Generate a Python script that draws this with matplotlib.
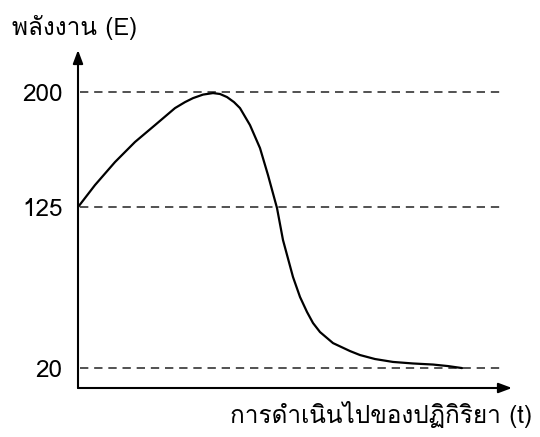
import matplotlib
matplotlib.use('Agg')
import matplotlib.pyplot as plt
from matplotlib import font_manager
from matplotlib.ft2font import FT2Font

# energy profile (t in arbitrary units, E)
t = [0.0, 1.7, 3.7, 5.7, 7.7, 9.7, 10.7, 11.5, 12.5, 13.5, 14.2, 14.9,
     15.6, 16.2, 17.2, 18.2, 19.0, 19.9, 20.5, 21.5, 22.2, 22.9, 23.5,
     24.2, 25.5, 27.2, 28.2, 29.7, 31.5, 33.5, 35.5, 37.0, 38.4]
E = [125.0, 139.4, 154.4, 167.5, 178.5, 189.6, 193.5, 196.1, 198.4, 199.4,
     198.8, 196.8, 193.5, 189.6, 178.5, 163.5, 145.9, 124.4, 103.5, 79.4,
     66.4, 56.6, 49.4, 43.5, 36.3, 31.1, 28.5, 25.9, 24.0, 23.0, 22.3,
     21.3, 20.0]
levels = [20, 125, 200]
ylabel = 'พลังงาน (E)'
xlabel = 'การดำเนินไปของปฏิกิริยา (t)'

# find an installed font that has Thai glyphs
thai_font = None
for f in font_manager.fontManager.ttflist:
    try:
        if 0x0E1E in FT2Font(f.fname).get_charmap():
            thai_font = f.name
            break
    except Exception:
        pass
families = [thai_font, 'DejaVu Sans'] if thai_font else ['DejaVu Sans']
plt.rcParams['font.family'] = families

fig = plt.figure(figsize=(5.4, 4.37), dpi=100)
ax = fig.add_axes([78/540, 49/437, 434/540, 338/437])
ax.set_xlim(0, 43.4)
ax.set_ylim(7.0, 227.5)
for s in ax.spines.values():
    s.set_visible(False)

ax.hlines(levels, 0.2, 42.7, colors='#333333', linewidth=1.2, linestyles=(0, (5, 3.5)))
ax.plot(t, E, color='black', linewidth=1.6, solid_capstyle='round', solid_joinstyle='round')

# axes with arrows
arrow = dict(arrowstyle='-|>,head_length=0.8,head_width=0.3', color='black', lw=1.5,
             shrinkA=0, shrinkB=0)
ax.annotate('', xy=(1.0, 0), xytext=(0, 0), xycoords='axes fraction', arrowprops=arrow)
ax.annotate('', xy=(0, 1.0), xytext=(0, 0), xycoords='axes fraction', arrowprops=arrow)

ax.set_xticks([])
ax.set_yticks(levels)
ax.set_yticklabels([str(v) for v in levels], fontsize=17.5)
ax.tick_params(axis='y', length=0, pad=11)

fig.text(12/540, 1 - 28/437, ylabel, fontsize=17.5, ha='left', va='center')
fig.text(532/540, 1 - 415/437, xlabel, fontsize=17.5, ha='right', va='center')

fig.savefig('out.png', dpi=100, facecolor='white')
